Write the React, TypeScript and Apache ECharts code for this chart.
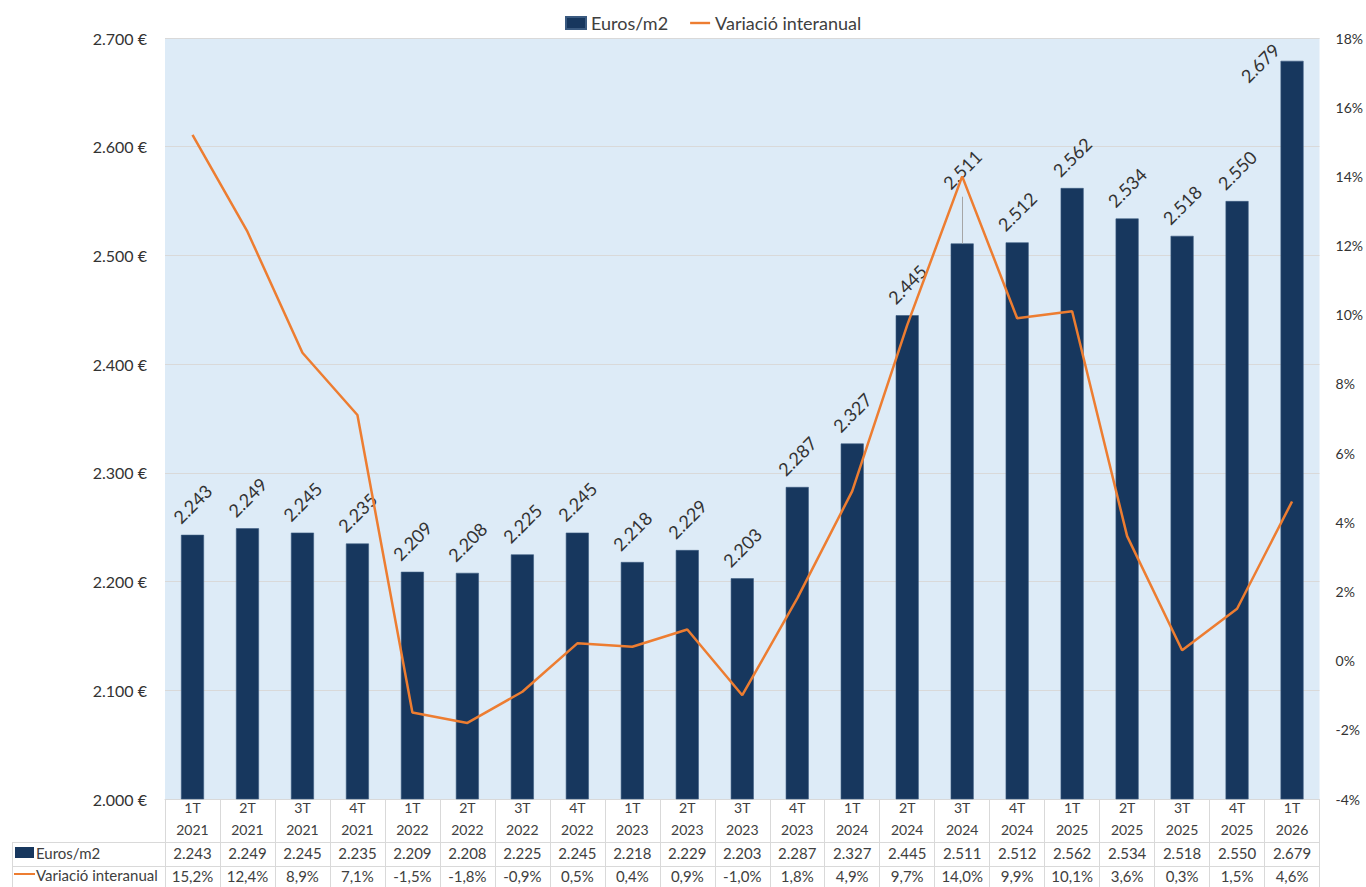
import React, { useEffect, useRef } from 'react';
import * as echarts from 'echarts';

const categories = [
  '1T\n2021', '2T\n2021', '3T\n2021', '4T\n2021',
  '1T\n2022', '2T\n2022', '3T\n2022', '4T\n2022',
  '1T\n2023', '2T\n2023', '3T\n2023', '4T\n2023',
  '1T\n2024', '2T\n2024', '3T\n2024', '4T\n2024',
  '1T\n2025', '2T\n2025', '3T\n2025', '4T\n2025',
  '1T\n2026',
];

const eurosM2 = [
  2243, 2249, 2245, 2235, 2209, 2208, 2225, 2245, 2218, 2229, 2203,
  2287, 2327, 2445, 2511, 2512, 2562, 2534, 2518, 2550, 2679,
];

const variacio = [
  15.2, 12.4, 8.9, 7.1, -1.5, -1.8, -0.9, 0.5, 0.4, 0.9, -1.0,
  1.8, 4.9, 9.7, 14.0, 9.9, 10.1, 3.6, 0.3, 1.5, 4.6,
];

// label placement adjustments (screen pixels) for specific bars
const movedLabelIndex = 14;
const movedLabelShift = [0, -43];
const lastLabelIndex = 20;
const lastLabelShift = [-32, 33];
const leaderLength = 43; // in euros, from bar top toward the moved label

const FONT = 'Lato';
const TXT = '#404040';
const GRIDC = '#D9D9D9';
const NAVY = '#17375E';
const ORANGE = '#ED7D31';

const fmtEuro = (n: number) => {
  const s = String(Math.round(n));
  return s.replace(/\B(?=(\d{3})+(?!\d))/g, '.');
};
const fmtPct = (v: number) => v.toFixed(1).replace('.', ',') + '%';

// label offset is applied in the rotated (45°) text frame: convert a screen shift
const rotShift = (s: number[]) => {
  const k = Math.SQRT1_2;
  return [k * (s[0] - s[1]), k * (s[0] + s[1])];
};

export default function App() {
  const ref = useRef<HTMLDivElement>(null);

  useEffect(() => {
    if (!ref.current) return;
    const chart = echarts.init(ref.current, undefined, { renderer: 'svg' });

    const barData = eurosM2.map((v, i) => {
      if (i === movedLabelIndex) return { value: v, label: { offset: rotShift(movedLabelShift) } };
      if (i === lastLabelIndex) return { value: v, label: { offset: rotShift(lastLabelShift) } };
      return v;
    });

    const option: any = {
      animation: false,
      textStyle: { fontFamily: FONT },
      legend: {
        top: 9,
        left: 560,
        itemWidth: 20,
        itemHeight: 12,
        itemGap: 22,
        textStyle: { fontSize: 18, color: TXT, fontFamily: FONT },
        data: [
          { name: 'Euros/m2', icon: 'rect' },
          { name: 'Variació interanual', icon: 'path://M0 0 H20 V2.4 H0 Z' },
        ],
      },
      grid: {
        left: 165,
        right: 44,
        top: 38,
        bottom: 88,
        show: true,
        backgroundColor: '#DDEBF7',
        borderWidth: 0,
      },
      xAxis: [
        {
          type: 'category',
          data: categories,
          position: 'bottom',
          axisLine: { show: true, onZero: false, lineStyle: { color: GRIDC } },
          axisTick: { show: true, length: 88, lineStyle: { color: GRIDC } },
          axisLabel: {
            interval: 0,
            fontSize: 14,
            lineHeight: 22,
            color: TXT,
            margin: -3,
            fontFamily: FONT,
          },
        },
        {
          type: 'category',
          data: eurosM2.map(fmtEuro),
          position: 'bottom',
          offset: 43,
          axisLine: { show: true, onZero: false, lineStyle: { color: GRIDC } },
          axisTick: { show: false },
          axisLabel: { interval: 0, fontSize: 15, color: TXT, margin: 3, fontFamily: FONT },
        },
        {
          type: 'category',
          data: variacio.map(fmtPct),
          position: 'bottom',
          offset: 67,
          axisLine: { show: true, onZero: false, lineStyle: { color: GRIDC } },
          axisTick: { show: false },
          axisLabel: { interval: 0, fontSize: 15, color: TXT, margin: 2, fontFamily: FONT },
        },
      ],
      yAxis: [
        {
          type: 'value',
          min: 2000,
          max: 2700,
          interval: 100,
          position: 'left',
          axisLine: { show: false },
          axisTick: { show: false },
          splitLine: { show: true, lineStyle: { color: GRIDC } },
          axisLabel: {
            fontSize: 16,
            color: '#333333',
            margin: 18,
            fontFamily: FONT,
            formatter: (v: number) => fmtEuro(v) + ' €',
          },
        },
        {
          type: 'value',
          min: -4,
          max: 18,
          interval: 2,
          position: 'right',
          axisLine: { show: false },
          axisTick: { show: false },
          splitLine: { show: false },
          axisLabel: {
            fontSize: 14,
            color: '#333333',
            margin: 16,
            fontFamily: FONT,
            formatter: (v: number) => v + '%',
          },
        },
      ],
      series: [
        {
          name: 'Euros/m2',
          type: 'bar',
          xAxisIndex: 0,
          yAxisIndex: 0,
          data: barData,
          barWidth: 23,
          itemStyle: { color: NAVY, borderColor: '#3A5A80', borderWidth: 0.6 },
          label: {
            show: true,
            position: 'top',
            distance: 31,
            rotate: 45,
            align: 'center',
            verticalAlign: 'middle',
            fontSize: 18,
            color: '#333333',
            fontFamily: FONT,
            formatter: (p: any) => fmtEuro(p.value),
          },
          markLine: {
            silent: true,
            symbol: 'none',
            label: { show: false },
            lineStyle: { color: '#A6A6A6', width: 1, type: 'solid' },
            data: [
              [
                { coord: [movedLabelIndex, eurosM2[movedLabelIndex]] },
                { coord: [movedLabelIndex, eurosM2[movedLabelIndex] + leaderLength] },
              ],
            ],
          },
          z: 2,
        },
        {
          name: 'Variació interanual',
          type: 'line',
          xAxisIndex: 0,
          yAxisIndex: 1,
          data: variacio,
          symbol: 'none',
          showSymbol: false,
          lineStyle: { color: ORANGE, width: 2.5 },
          itemStyle: { color: ORANGE },
          z: 3,
        },
      ],
      graphic: [
        { type: 'line', shape: { x1: 12, y1: 842.5, x2: 165, y2: 842.5 }, style: { stroke: GRIDC, lineWidth: 1 } },
        { type: 'line', shape: { x1: 12, y1: 866.5, x2: 165, y2: 866.5 }, style: { stroke: GRIDC, lineWidth: 1 } },
        { type: 'line', shape: { x1: 12.5, y1: 842, x2: 12.5, y2: 887 }, style: { stroke: GRIDC, lineWidth: 1 } },
        { type: 'rect', shape: { x: 15, y: 847, width: 19, height: 11 }, style: { fill: NAVY } },
        { type: 'line', shape: { x1: 14, y1: 874, x2: 35, y2: 874 }, style: { stroke: ORANGE, lineWidth: 2 } },
        {
          type: 'text',
          x: 36,
          y: 853,
          style: { text: 'Euros/m2', fill: TXT, fontSize: 15, fontFamily: FONT, verticalAlign: 'middle', align: 'left' },
        },
        {
          type: 'text',
          x: 36,
          y: 875,
          style: { text: 'Variació interanual', fill: TXT, fontSize: 15, fontFamily: FONT, verticalAlign: 'middle', align: 'left' },
        },
      ],
    };

    chart.setOption(option);
    return () => chart.dispose();
  }, []);

  return (
    <div
      ref={ref}
      style={{ position: 'absolute', left: 0, top: 0, width: 1366, height: 887, background: '#ffffff' }}
    />
  );
}
